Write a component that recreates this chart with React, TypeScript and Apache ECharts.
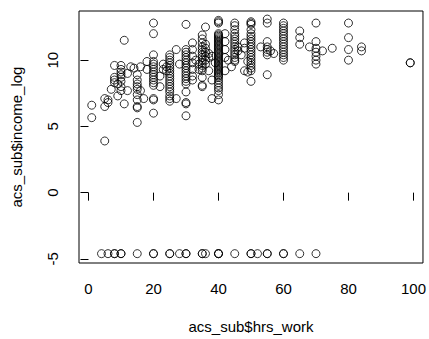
import React, { useEffect, useRef } from "react";
import * as echarts from "echarts";

// Axis ticks / labels
const xTicks = [0, 20, 40, 60, 80, 100];
const yTicks = [-5, 0, 5, 10];

// Observations: [hrs_work, income_log]
const zeroIncome: [number, number][] = [
  [4, -4.605], [6, -4.605], [8, -4.605], [8, -4.605], [10, -4.605], [10, -4.605],
  [15, -4.605], [20, -4.605], [20, -4.605], [25, -4.605], [25, -4.605], [28, -4.605],
  [30, -4.605], [30, -4.605], [35, -4.605], [35, -4.605], [36, -4.605], [40, -4.605],
  [40, -4.605], [40, -4.605], [45, -4.605], [50, -4.605], [50, -4.605], [52, -4.605],
  [55, -4.605], [55, -4.605], [60, -4.605], [60, -4.605], [65, -4.605], [70, -4.605],
];

const lowHours: [number, number][] = [
  [1, 6.6], [1, 5.66], [5, 3.9], [5, 7.1], [5, 6.5], [6, 7.0], [6, 6.8], [7, 7.8],
  [8, 9.6], [8, 8.7], [8, 8.5], [8, 8.3], [9, 7.3], [9, 8.2],
  [10, 9.6], [10, 9.3], [10, 9.1], [10, 8.9], [10, 8.7], [10, 8.4], [10, 8.0], [10, 7.7],
  [11, 11.5], [11, 6.7], [12, 9.0], [12, 7.7], [13, 9.5], [14, 9.4],
  [15, 8.9], [15, 8.5], [15, 8.2], [15, 8.0], [15, 7.8], [15, 7.4], [15, 7.0], [15, 6.5], [15, 6.4], [15, 5.3],
  [16, 9.5], [16, 7.7], [17, 7.1], [18, 9.9], [18, 9.3],
  [20, 12.8], [20, 12.0], [20, 10.4], [20, 9.9], [20, 9.7], [20, 9.5], [20, 9.3], [20, 9.1],
  [20, 8.9], [20, 8.7], [20, 8.5], [20, 8.3], [20, 8.1], [20, 7.1], [20, 7.0], [20, 6.0],
  [22, 8.0], [22, 8.8], [23, 9.7], [23, 9.3], [24, 9.5], [24, 9.2],
  [25, 10.4], [25, 10.2], [25, 10.0], [25, 9.8], [25, 9.6], [25, 9.4], [25, 9.2], [25, 9.0],
  [25, 8.8], [25, 8.6], [25, 8.4], [25, 8.2], [25, 8.0], [25, 7.8], [25, 7.6], [25, 7.3], [25, 7.1], [25, 6.9],
  [27, 10.8], [27, 7.1], [28, 9.7],
];

const midHours: [number, number][] = [
  [30, 12.7], [30, 10.8], [30, 10.6], [30, 10.4], [30, 10.2], [30, 10.0], [30, 9.8], [30, 9.6],
  [30, 9.4], [30, 9.2], [30, 9.0], [30, 8.8], [30, 8.6], [30, 8.4], [30, 8.2], [30, 7.6],
  [30, 6.8], [30, 6.7], [30, 5.8],
  [32, 11.3], [32, 10.8], [32, 10.3], [32, 9.8], [32, 9.3], [32, 8.8], [32, 8.5],
  [33, 10.0], [34, 9.7], [34, 9.3],
  [35, 11.9], [35, 11.6], [35, 11.3], [35, 11.0], [35, 10.8], [35, 10.6], [35, 10.4], [35, 10.2],
  [35, 10.0], [35, 9.8], [35, 9.6], [35, 9.4], [35, 9.2], [35, 8.7], [35, 8.1], [35, 8.0],
  [36, 12.5], [36, 11.2], [36, 10.9], [36, 10.6], [36, 10.3], [36, 10.0], [36, 9.7],
  [37, 10.5], [37, 10.2], [37, 9.2], [38, 8.5], [38, 7.1], [38, 10.3], [39, 9.8],
  [40, 13.0], [40, 12.9], [40, 12.8], [40, 12.0], [40, 11.9], [40, 11.8], [40, 11.7], [40, 11.6],
  [40, 11.5], [40, 11.4], [40, 11.3], [40, 11.2], [40, 11.1], [40, 11.0], [40, 10.9], [40, 10.8],
  [40, 10.7], [40, 10.6], [40, 10.5], [40, 10.4], [40, 10.3], [40, 10.2], [40, 10.1], [40, 10.0],
  [40, 9.9], [40, 9.8], [40, 9.7], [40, 9.6], [40, 9.5], [40, 9.4], [40, 9.3], [40, 9.2],
  [40, 9.1], [40, 9.0], [40, 8.9], [40, 8.8], [40, 8.7], [40, 8.5], [40, 8.3], [40, 8.1],
  [40, 7.9], [40, 7.7], [40, 7.4], [40, 7.0],
  [42, 12.0], [42, 11.4], [42, 10.8], [42, 10.2], [42, 9.2], [43, 10.0], [44, 9.5],
];

const highHours: [number, number][] = [
  [45, 12.8], [45, 12.6], [45, 12.3], [45, 12.0], [45, 11.8], [45, 11.6], [45, 11.4], [45, 11.2],
  [45, 11.0], [45, 10.8], [45, 10.6], [45, 10.4], [45, 10.2], [45, 10.0], [45, 9.9],
  [46, 11.0], [46, 10.7], [47, 10.4], [48, 11.3], [48, 10.9], [48, 9.2], [49, 9.1], [49, 9.9],
  [50, 12.9], [50, 12.8], [50, 12.7], [50, 12.3], [50, 12.0], [50, 11.8], [50, 11.6], [50, 11.4],
  [50, 11.2], [50, 11.0], [50, 10.8], [50, 10.6], [50, 10.4], [50, 10.2], [50, 10.0], [50, 9.8],
  [50, 9.6], [50, 9.4], [50, 9.2], [50, 8.4],
  [53, 11.0], [55, 13.1], [55, 12.8], [55, 11.4], [55, 11.0], [55, 10.8], [55, 10.6], [55, 10.4], [55, 8.9],
  [56, 10.7], [57, 10.5],
  [60, 12.8], [60, 12.6], [60, 12.4], [60, 12.2], [60, 12.0], [60, 11.8], [60, 11.6], [60, 11.4],
  [60, 11.2], [60, 11.0], [60, 10.8], [60, 10.6], [60, 10.4], [60, 10.2], [60, 10.0],
  [65, 12.2], [65, 11.7], [65, 11.2], [68, 11.0],
  [70, 12.8], [70, 11.4], [70, 10.9], [70, 10.6], [70, 10.3], [70, 10.0], [70, 9.7],
  [72, 10.7], [75, 10.9], [80, 12.8], [80, 11.7], [80, 10.8], [80, 10.0],
  [84, 11.0], [84, 10.7], [99, 9.8], [99, 9.8],
];

const observations = [...lowHours, ...midHours, ...highHours, ...zeroIncome];

export default function App() {
  const ref = useRef<HTMLDivElement>(null);
  useEffect(() => {
    if (!ref.current) return;
    const chart = echarts.init(ref.current, undefined, { renderer: "svg" });
    const font = "'Liberation Sans', Arial, Helvetica, sans-serif";
    chart.setOption({
      animation: false,
      backgroundColor: "#fff",
      textStyle: { fontFamily: font },
      grid: {
        left: 79,
        right: 3,
        top: 11,
        bottom: 74,
        show: true,
        borderColor: "#000",
        borderWidth: 1,
        backgroundColor: "transparent",
      },
      xAxis: {
        type: "value",
        min: -2.92,
        max: 102.92,
        splitLine: { show: false },
        axisLine: { show: false },
        axisTick: { show: true, inside: false, length: 8, customValues: xTicks, lineStyle: { color: "#000" } },
        axisLabel: { customValues: xTicks, color: "#000", fontSize: 15, margin: 18, fontFamily: font },
        name: "acs_sub$hrs_work",
        nameLocation: "middle",
        nameGap: 56,
        nameTextStyle: { color: "#000", fontSize: 15, fontFamily: font },
      },
      yAxis: {
        type: "value",
        min: -5.31,
        max: 13.71,
        splitLine: { show: false },
        axisLine: { show: false },
        axisTick: { show: true, inside: false, length: 8, customValues: yTicks, lineStyle: { color: "#000" } },
        axisLabel: { customValues: yTicks, color: "#000", fontSize: 15, margin: 19, rotate: 90, fontFamily: font },
        name: "acs_sub$income_log",
        nameLocation: "middle",
        nameRotate: 90,
        nameGap: 55,
        nameTextStyle: { color: "#000", fontSize: 15, fontFamily: font },
      },
      series: [
        {
          type: "scatter",
          data: observations,
          symbol: "circle",
          symbolSize: 8,
          itemStyle: { color: "transparent", borderColor: "#000", borderWidth: 1 },
          emphasis: { disabled: true },
        },
      ],
    });
    return () => chart.dispose();
  }, []);
  return <div ref={ref} style={{ width: 429, height: 339, position: "absolute", left: 0, top: 0 }} />;
}
